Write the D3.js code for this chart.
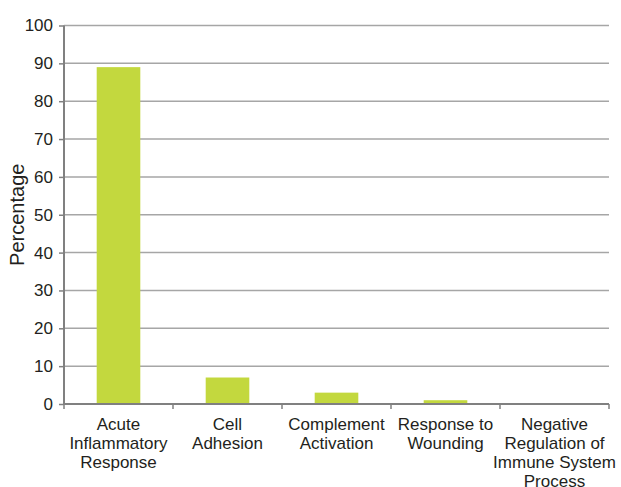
<!DOCTYPE html>
<html>
<head>
<meta charset="utf-8">
<script src="https://cdn.jsdelivr.net/npm/d3@7"></script>
<style>
  body { margin: 0; background: #fff; }
  text { font-family: "Liberation Sans", Arial, sans-serif; fill: #231f20; }
</style>
</head>
<body>
<div id="chart"></div>
<script>
var width = 621;
var height = 487;

// data
var categories = [
  ["Acute", "Inflammatory", "Response"],
  ["Cell", "Adhesion"],
  ["Complement", "Activation"],
  ["Response to", "Wounding"],
  ["Negative", "Regulation of", "Immune System", "Process"]
];
var values = [89, 7, 3, 1, 0];
var yTicks = [0, 10, 20, 30, 40, 50, 60, 70, 80, 90, 100];

var margin = {top: 25.5, right: 12, bottom: 83, left: 64};

var svg = d3.select("#chart").append("svg")
  .attr("width", width)
  .attr("height", height);

var x = d3.scaleBand()
  .domain(d3.range(categories.length))
  .range([margin.left, width - margin.right])
  .paddingInner(0.6)
  .paddingOuter(0.3);

var y = d3.scaleLinear()
  .domain([0, 100])
  .range([height - margin.bottom, margin.top]);

// gridlines
svg.append("g")
  .selectAll("line")
  .data(yTicks.slice(1))
  .enter()
  .append("line")
    .attr("x1", margin.left)
    .attr("x2", width - margin.right)
    .attr("y1", function(d){ return y(d); })
    .attr("y2", function(d){ return y(d); })
    .style("stroke", "#a6a6a6")
    .style("stroke-width", 1.5);

// bars
svg.append("g")
  .selectAll("rect")
  .data(values)
  .enter()
  .append("rect")
    .attr("x", function(d,i){ return x(i); })
    .attr("y", function(d){ return y(d); })
    .attr("width", x.bandwidth())
    .attr("height", function(d){ return y(0) - y(d); })
    .style("fill", "#c3d83e");

// y axis
var yAxis = svg.append("g")
  .attr("transform", "translate(" + margin.left + ",0)")
  .call(d3.axisLeft(y).tickValues(yTicks).tickSize(5).tickPadding(6));
yAxis.selectAll("text").style("font-size", "17px").style("fill", "#231f20");
yAxis.selectAll("line").style("stroke", "#808080").style("stroke-width", 1.5);
yAxis.select(".domain").attr("d", "M0," + y(0) + "V" + y(100))
  .style("stroke", "#808080").style("stroke-width", 2);

// x axis with ticks at band boundaries
var x0 = margin.left, x1 = width - margin.right;
var edges = d3.range(categories.length + 1).map(function(i){
  return x0 + i * (x1 - x0) / categories.length;
});
var xg = svg.append("g");
xg.append("line")
  .attr("x1", x0).attr("x2", x1)
  .attr("y1", y(0)).attr("y2", y(0))
  .style("stroke", "#808080").style("stroke-width", 2);
xg.selectAll(".tk")
  .data(edges)
  .enter()
  .append("line")
    .attr("x1", function(d){ return d; })
    .attr("x2", function(d){ return d; })
    .attr("y1", y(0))
    .attr("y2", y(0) + 5)
    .style("stroke", "#808080")
    .style("stroke-width", 1.5);

// category labels
var labels = xg.selectAll(".lbl")
  .data(categories)
  .enter()
  .append("text")
    .attr("text-anchor", "middle")
    .attr("x", function(d,i){ return x(i) + x.bandwidth() / 2; })
    .attr("y", y(0) + 26)
    .style("font-size", "17px");
labels.selectAll("tspan")
  .data(function(d){ return d; })
  .enter()
  .append("tspan")
    .attr("x", function(){ return d3.select(this.parentNode).attr("x"); })
    .attr("dy", function(d,i){ return i === 0 ? 0 : 19; })
    .text(function(d){ return d; });

// y title
svg.append("text")
  .attr("transform", "translate(24," + ((y(0) + y(100)) / 2) + ") rotate(-90)")
  .attr("text-anchor", "middle")
  .style("font-size", "20px")
  .text("Percentage");
</script>
</body>
</html>
